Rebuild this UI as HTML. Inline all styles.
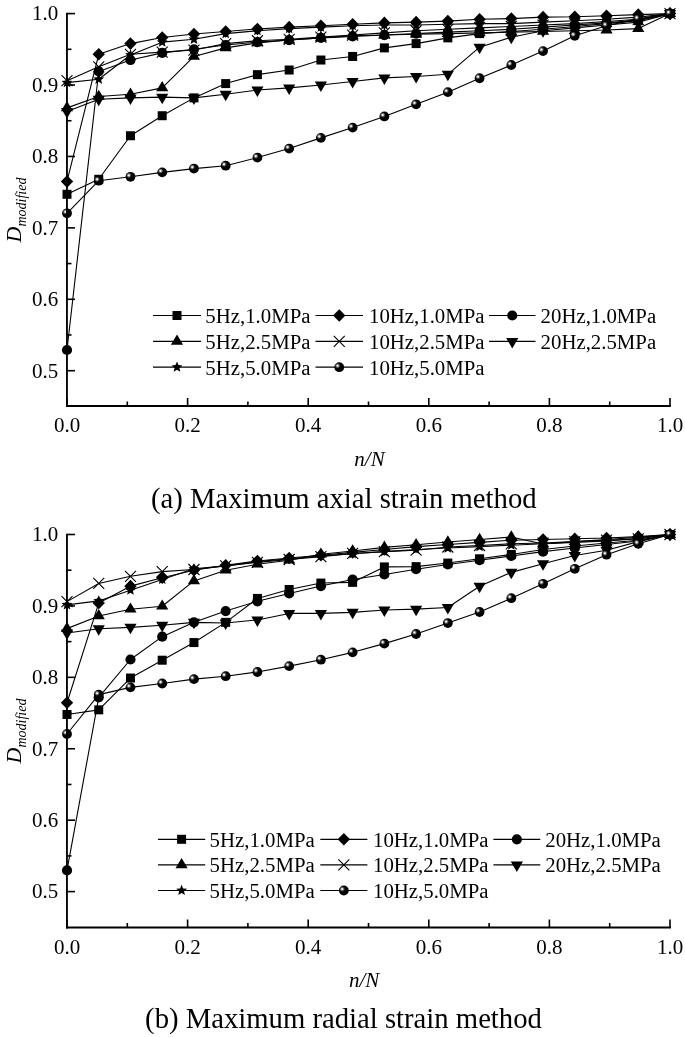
<!DOCTYPE html>
<html><head><meta charset="utf-8"><style>
html,body{margin:0;padding:0;background:#fff;width:685px;height:1037px;overflow:hidden}
svg{display:block;will-change:transform}
text{font-family:"Liberation Serif",serif;fill:#000}
.tk{font-size:21px}
.lg{font-size:20.8px}
.xl{font-size:21px;font-style:italic}
.yl{font-size:22px}
.sub{font-size:14px}
.cap{font-size:28.7px}
</style></head><body>
<svg width="685" height="1037" viewBox="0 0 685 1037">
<defs><radialGradient id="sg" cx="0.33" cy="0.35" r="0.65" fx="0.33" fy="0.35">
<stop offset="0" stop-color="#fff"/><stop offset="0.09" stop-color="#eee"/><stop offset="0.27" stop-color="#555"/><stop offset="0.44" stop-color="#000"/><stop offset="1" stop-color="#000"/></radialGradient></defs>
<rect width="685" height="1037" fill="#fff"/>
<polyline points="67.00,194.29 98.74,179.29 130.47,135.73 162.21,115.73 193.95,97.88 225.68,83.59 257.42,74.66 289.16,70.02 320.89,60.02 352.63,56.45 384.37,47.88 416.11,43.60 447.84,37.88 479.58,33.60 511.32,31.46 543.05,29.31 574.79,26.46 606.53,23.60 638.26,20.74 670.00,13.60" fill="none" stroke="#000" stroke-width="1.1" stroke-linejoin="round"/>
<rect x="62.50" y="189.79" width="9.0" height="9.0" fill="#000"/>
<rect x="94.24" y="174.79" width="9.0" height="9.0" fill="#000"/>
<rect x="125.97" y="131.23" width="9.0" height="9.0" fill="#000"/>
<rect x="157.71" y="111.23" width="9.0" height="9.0" fill="#000"/>
<rect x="189.45" y="93.38" width="9.0" height="9.0" fill="#000"/>
<rect x="221.18" y="79.09" width="9.0" height="9.0" fill="#000"/>
<rect x="252.92" y="70.16" width="9.0" height="9.0" fill="#000"/>
<rect x="284.66" y="65.52" width="9.0" height="9.0" fill="#000"/>
<rect x="316.39" y="55.52" width="9.0" height="9.0" fill="#000"/>
<rect x="348.13" y="51.95" width="9.0" height="9.0" fill="#000"/>
<rect x="379.87" y="43.38" width="9.0" height="9.0" fill="#000"/>
<rect x="411.61" y="39.10" width="9.0" height="9.0" fill="#000"/>
<rect x="443.34" y="33.38" width="9.0" height="9.0" fill="#000"/>
<rect x="475.08" y="29.10" width="9.0" height="9.0" fill="#000"/>
<rect x="506.82" y="26.96" width="9.0" height="9.0" fill="#000"/>
<rect x="538.55" y="24.81" width="9.0" height="9.0" fill="#000"/>
<rect x="570.29" y="21.96" width="9.0" height="9.0" fill="#000"/>
<rect x="602.03" y="19.10" width="9.0" height="9.0" fill="#000"/>
<rect x="633.76" y="16.24" width="9.0" height="9.0" fill="#000"/>
<rect x="665.50" y="9.10" width="9.0" height="9.0" fill="#000"/>
<polyline points="67.00,181.44 98.74,54.31 130.47,43.60 162.21,37.53 193.95,34.03 225.68,31.46 257.42,28.96 289.16,27.17 320.89,25.74 352.63,24.31 384.37,22.88 416.11,22.17 447.84,21.10 479.58,19.31 511.32,18.60 543.05,17.17 574.79,16.81 606.53,15.74 638.26,14.67 670.00,13.60" fill="none" stroke="#000" stroke-width="1.1" stroke-linejoin="round"/>
<path d="M67.00 175.14L73.20 181.44L67.00 187.74L60.80 181.44Z" fill="#000"/>
<path d="M98.74 48.01L104.94 54.31L98.74 60.61L92.54 54.31Z" fill="#000"/>
<path d="M130.47 37.30L136.67 43.60L130.47 49.90L124.27 43.60Z" fill="#000"/>
<path d="M162.21 31.23L168.41 37.53L162.21 43.83L156.01 37.53Z" fill="#000"/>
<path d="M193.95 27.73L200.15 34.03L193.95 40.33L187.75 34.03Z" fill="#000"/>
<path d="M225.68 25.16L231.88 31.46L225.68 37.76L219.48 31.46Z" fill="#000"/>
<path d="M257.42 22.66L263.62 28.96L257.42 35.26L251.22 28.96Z" fill="#000"/>
<path d="M289.16 20.87L295.36 27.17L289.16 33.47L282.96 27.17Z" fill="#000"/>
<path d="M320.89 19.44L327.09 25.74L320.89 32.04L314.69 25.74Z" fill="#000"/>
<path d="M352.63 18.01L358.83 24.31L352.63 30.61L346.43 24.31Z" fill="#000"/>
<path d="M384.37 16.58L390.57 22.88L384.37 29.18L378.17 22.88Z" fill="#000"/>
<path d="M416.11 15.87L422.31 22.17L416.11 28.47L409.91 22.17Z" fill="#000"/>
<path d="M447.84 14.80L454.04 21.10L447.84 27.40L441.64 21.10Z" fill="#000"/>
<path d="M479.58 13.01L485.78 19.31L479.58 25.61L473.38 19.31Z" fill="#000"/>
<path d="M511.32 12.30L517.52 18.60L511.32 24.90L505.12 18.60Z" fill="#000"/>
<path d="M543.05 10.87L549.25 17.17L543.05 23.47L536.85 17.17Z" fill="#000"/>
<path d="M574.79 10.51L580.99 16.81L574.79 23.11L568.59 16.81Z" fill="#000"/>
<path d="M606.53 9.44L612.73 15.74L606.53 22.04L600.33 15.74Z" fill="#000"/>
<path d="M638.26 8.37L644.46 14.67L638.26 20.97L632.06 14.67Z" fill="#000"/>
<path d="M670.00 7.30L676.20 13.60L670.00 19.90L663.80 13.60Z" fill="#000"/>
<polyline points="67.00,349.99 98.74,71.45 130.47,60.02 162.21,52.88 193.95,49.31 225.68,45.02 257.42,42.17 289.16,40.03 320.89,37.88 352.63,36.45 384.37,35.03 416.11,33.60 447.84,32.17 479.58,30.74 511.32,29.31 543.05,27.17 574.79,25.03 606.53,22.88 638.26,20.03 670.00,13.60" fill="none" stroke="#000" stroke-width="1.1" stroke-linejoin="round"/>
<circle cx="67.00" cy="349.99" r="5.1" fill="#000"/>
<circle cx="98.74" cy="71.45" r="5.1" fill="#000"/>
<circle cx="130.47" cy="60.02" r="5.1" fill="#000"/>
<circle cx="162.21" cy="52.88" r="5.1" fill="#000"/>
<circle cx="193.95" cy="49.31" r="5.1" fill="#000"/>
<circle cx="225.68" cy="45.02" r="5.1" fill="#000"/>
<circle cx="257.42" cy="42.17" r="5.1" fill="#000"/>
<circle cx="289.16" cy="40.03" r="5.1" fill="#000"/>
<circle cx="320.89" cy="37.88" r="5.1" fill="#000"/>
<circle cx="352.63" cy="36.45" r="5.1" fill="#000"/>
<circle cx="384.37" cy="35.03" r="5.1" fill="#000"/>
<circle cx="416.11" cy="33.60" r="5.1" fill="#000"/>
<circle cx="447.84" cy="32.17" r="5.1" fill="#000"/>
<circle cx="479.58" cy="30.74" r="5.1" fill="#000"/>
<circle cx="511.32" cy="29.31" r="5.1" fill="#000"/>
<circle cx="543.05" cy="27.17" r="5.1" fill="#000"/>
<circle cx="574.79" cy="25.03" r="5.1" fill="#000"/>
<circle cx="606.53" cy="22.88" r="5.1" fill="#000"/>
<circle cx="638.26" cy="20.03" r="5.1" fill="#000"/>
<circle cx="670.00" cy="13.60" r="5.1" fill="#000"/>
<polyline points="67.00,107.87 98.74,96.45 130.47,94.30 162.21,87.88 193.95,56.45 225.68,47.88 257.42,42.88 289.16,40.03 320.89,37.88 352.63,35.74 384.37,35.03 416.11,34.31 447.84,33.60 479.58,32.88 511.32,32.17 543.05,31.46 574.79,30.74 606.53,30.03 638.26,28.60 670.00,13.60" fill="none" stroke="#000" stroke-width="1.1" stroke-linejoin="round"/>
<path d="M67.00 101.07L73.10 111.27L60.90 111.27Z" fill="#000"/>
<path d="M98.74 89.65L104.84 99.85L92.64 99.85Z" fill="#000"/>
<path d="M130.47 87.50L136.57 97.70L124.37 97.70Z" fill="#000"/>
<path d="M162.21 81.08L168.31 91.28L156.11 91.28Z" fill="#000"/>
<path d="M193.95 49.65L200.05 59.85L187.85 59.85Z" fill="#000"/>
<path d="M225.68 41.08L231.78 51.28L219.58 51.28Z" fill="#000"/>
<path d="M257.42 36.08L263.52 46.28L251.32 46.28Z" fill="#000"/>
<path d="M289.16 33.23L295.26 43.43L283.06 43.43Z" fill="#000"/>
<path d="M320.89 31.08L326.99 41.28L314.79 41.28Z" fill="#000"/>
<path d="M352.63 28.94L358.73 39.14L346.53 39.14Z" fill="#000"/>
<path d="M384.37 28.23L390.47 38.43L378.27 38.43Z" fill="#000"/>
<path d="M416.11 27.51L422.21 37.71L410.01 37.71Z" fill="#000"/>
<path d="M447.84 26.80L453.94 37.00L441.74 37.00Z" fill="#000"/>
<path d="M479.58 26.08L485.68 36.28L473.48 36.28Z" fill="#000"/>
<path d="M511.32 25.37L517.42 35.57L505.22 35.57Z" fill="#000"/>
<path d="M543.05 24.66L549.15 34.86L536.95 34.86Z" fill="#000"/>
<path d="M574.79 23.94L580.89 34.14L568.69 34.14Z" fill="#000"/>
<path d="M606.53 23.23L612.63 33.43L600.43 33.43Z" fill="#000"/>
<path d="M638.26 21.80L644.36 32.00L632.16 32.00Z" fill="#000"/>
<path d="M670.00 6.80L676.10 17.00L663.90 17.00Z" fill="#000"/>
<polyline points="67.00,80.73 98.74,66.81 130.47,54.31 162.21,52.17 193.95,50.02 225.68,43.60 257.42,40.74 289.16,39.31 320.89,37.17 352.63,35.03 384.37,32.88 416.11,30.74 447.84,29.31 479.58,27.88 511.32,26.46 543.05,25.03 574.79,23.60 606.53,21.46 638.26,19.31 670.00,13.60" fill="none" stroke="#000" stroke-width="1.1" stroke-linejoin="round"/>
<path d="M61.50 75.23L72.50 86.23M72.50 75.23L61.50 86.23" stroke="#000" stroke-width="1.1" fill="none"/>
<path d="M93.24 61.31L104.24 72.31M104.24 61.31L93.24 72.31" stroke="#000" stroke-width="1.1" fill="none"/>
<path d="M124.97 48.81L135.97 59.81M135.97 48.81L124.97 59.81" stroke="#000" stroke-width="1.1" fill="none"/>
<path d="M156.71 46.67L167.71 57.67M167.71 46.67L156.71 57.67" stroke="#000" stroke-width="1.1" fill="none"/>
<path d="M188.45 44.52L199.45 55.52M199.45 44.52L188.45 55.52" stroke="#000" stroke-width="1.1" fill="none"/>
<path d="M220.18 38.10L231.18 49.10M231.18 38.10L220.18 49.10" stroke="#000" stroke-width="1.1" fill="none"/>
<path d="M251.92 35.24L262.92 46.24M262.92 35.24L251.92 46.24" stroke="#000" stroke-width="1.1" fill="none"/>
<path d="M283.66 33.81L294.66 44.81M294.66 33.81L283.66 44.81" stroke="#000" stroke-width="1.1" fill="none"/>
<path d="M315.39 31.67L326.39 42.67M326.39 31.67L315.39 42.67" stroke="#000" stroke-width="1.1" fill="none"/>
<path d="M347.13 29.53L358.13 40.53M358.13 29.53L347.13 40.53" stroke="#000" stroke-width="1.1" fill="none"/>
<path d="M378.87 27.38L389.87 38.38M389.87 27.38L378.87 38.38" stroke="#000" stroke-width="1.1" fill="none"/>
<path d="M410.61 25.24L421.61 36.24M421.61 25.24L410.61 36.24" stroke="#000" stroke-width="1.1" fill="none"/>
<path d="M442.34 23.81L453.34 34.81M453.34 23.81L442.34 34.81" stroke="#000" stroke-width="1.1" fill="none"/>
<path d="M474.08 22.38L485.08 33.38M485.08 22.38L474.08 33.38" stroke="#000" stroke-width="1.1" fill="none"/>
<path d="M505.82 20.96L516.82 31.96M516.82 20.96L505.82 31.96" stroke="#000" stroke-width="1.1" fill="none"/>
<path d="M537.55 19.53L548.55 30.53M548.55 19.53L537.55 30.53" stroke="#000" stroke-width="1.1" fill="none"/>
<path d="M569.29 18.10L580.29 29.10M580.29 18.10L569.29 29.10" stroke="#000" stroke-width="1.1" fill="none"/>
<path d="M601.03 15.96L612.03 26.96M612.03 15.96L601.03 26.96" stroke="#000" stroke-width="1.1" fill="none"/>
<path d="M632.76 13.81L643.76 24.81M643.76 13.81L632.76 24.81" stroke="#000" stroke-width="1.1" fill="none"/>
<path d="M664.50 8.10L675.50 19.10M675.50 8.10L664.50 19.10" stroke="#000" stroke-width="1.1" fill="none"/>
<polyline points="67.00,111.45 98.74,99.30 130.47,97.88 162.21,97.16 193.95,97.88 225.68,94.30 257.42,90.02 289.16,87.88 320.89,85.02 352.63,81.45 384.37,77.88 416.11,76.45 447.84,74.31 479.58,47.17 511.32,37.17 543.05,30.74 574.79,27.88 606.53,25.03 638.26,22.17 670.00,13.60" fill="none" stroke="#000" stroke-width="1.1" stroke-linejoin="round"/>
<path d="M67.00 118.45L73.10 107.95L60.90 107.95Z" fill="#000"/>
<path d="M98.74 106.30L104.84 95.80L92.64 95.80Z" fill="#000"/>
<path d="M130.47 104.88L136.57 94.38L124.37 94.38Z" fill="#000"/>
<path d="M162.21 104.16L168.31 93.66L156.11 93.66Z" fill="#000"/>
<path d="M193.95 104.88L200.05 94.38L187.85 94.38Z" fill="#000"/>
<path d="M225.68 101.30L231.78 90.80L219.58 90.80Z" fill="#000"/>
<path d="M257.42 97.02L263.52 86.52L251.32 86.52Z" fill="#000"/>
<path d="M289.16 94.88L295.26 84.38L283.06 84.38Z" fill="#000"/>
<path d="M320.89 92.02L326.99 81.52L314.79 81.52Z" fill="#000"/>
<path d="M352.63 88.45L358.73 77.95L346.53 77.95Z" fill="#000"/>
<path d="M384.37 84.88L390.47 74.38L378.27 74.38Z" fill="#000"/>
<path d="M416.11 83.45L422.21 72.95L410.01 72.95Z" fill="#000"/>
<path d="M447.84 81.31L453.94 70.81L441.74 70.81Z" fill="#000"/>
<path d="M479.58 54.17L485.68 43.67L473.48 43.67Z" fill="#000"/>
<path d="M511.32 44.17L517.42 33.67L505.22 33.67Z" fill="#000"/>
<path d="M543.05 37.74L549.15 27.24L536.95 27.24Z" fill="#000"/>
<path d="M574.79 34.88L580.89 24.38L568.69 24.38Z" fill="#000"/>
<path d="M606.53 32.03L612.63 21.53L600.43 21.53Z" fill="#000"/>
<path d="M638.26 29.17L644.36 18.67L632.16 18.67Z" fill="#000"/>
<path d="M670.00 20.60L676.10 10.10L663.90 10.10Z" fill="#000"/>
<polyline points="67.00,82.66 98.74,79.31 130.47,55.02 162.21,42.17 193.95,39.31 225.68,33.60 257.42,30.74 289.16,28.60 320.89,27.17 352.63,25.74 384.37,25.03 416.11,25.03 447.84,24.31 479.58,23.60 511.32,23.60 543.05,22.17 574.79,20.74 606.53,19.31 638.26,17.17 670.00,13.60" fill="none" stroke="#000" stroke-width="1.1" stroke-linejoin="round"/>
<path d="M67.00 76.96L68.51 80.59L72.42 80.90L69.44 83.46L70.35 87.27L67.00 85.23L63.65 87.27L64.56 83.46L61.58 80.90L65.49 80.59Z" fill="#000"/>
<path d="M98.74 73.61L100.24 77.23L104.16 77.55L101.18 80.10L102.09 83.92L98.74 81.87L95.39 83.92L96.30 80.10L93.32 77.55L97.23 77.23Z" fill="#000"/>
<path d="M130.47 49.32L131.98 52.95L135.89 53.26L132.91 55.82L133.82 59.63L130.47 57.59L127.12 59.63L128.03 55.82L125.05 53.26L128.97 52.95Z" fill="#000"/>
<path d="M162.21 36.47L163.72 40.09L167.63 40.41L164.65 42.96L165.56 46.78L162.21 44.73L158.86 46.78L159.77 42.96L156.79 40.41L160.70 40.09Z" fill="#000"/>
<path d="M193.95 33.61L195.46 37.24L199.37 37.55L196.39 40.10L197.30 43.92L193.95 41.88L190.60 43.92L191.51 40.10L188.53 37.55L192.44 37.24Z" fill="#000"/>
<path d="M225.68 27.90L227.19 31.52L231.11 31.84L228.12 34.39L229.03 38.21L225.68 36.16L222.33 38.21L223.24 34.39L220.26 31.84L224.18 31.52Z" fill="#000"/>
<path d="M257.42 25.04L258.93 28.67L262.84 28.98L259.86 31.53L260.77 35.35L257.42 33.31L254.07 35.35L254.98 31.53L252.00 28.98L255.91 28.67Z" fill="#000"/>
<path d="M289.16 22.90L290.67 26.52L294.58 26.84L291.60 29.39L292.51 33.21L289.16 31.16L285.81 33.21L286.72 29.39L283.74 26.84L287.65 26.52Z" fill="#000"/>
<path d="M320.89 21.47L322.40 25.09L326.32 25.41L323.33 27.96L324.25 31.78L320.89 29.73L317.54 31.78L318.46 27.96L315.47 25.41L319.39 25.09Z" fill="#000"/>
<path d="M352.63 20.04L354.14 23.67L358.05 23.98L355.07 26.53L355.98 30.35L352.63 28.31L349.28 30.35L350.19 26.53L347.21 23.98L351.12 23.67Z" fill="#000"/>
<path d="M384.37 19.33L385.88 22.95L389.79 23.27L386.81 25.82L387.72 29.64L384.37 27.59L381.02 29.64L381.93 25.82L378.95 23.27L382.86 22.95Z" fill="#000"/>
<path d="M416.11 19.33L417.61 22.95L421.53 23.27L418.54 25.82L419.46 29.64L416.11 27.59L412.75 29.64L413.67 25.82L410.68 23.27L414.60 22.95Z" fill="#000"/>
<path d="M447.84 18.61L449.35 22.24L453.26 22.55L450.28 25.11L451.19 28.92L447.84 26.88L444.49 28.92L445.40 25.11L442.42 22.55L446.33 22.24Z" fill="#000"/>
<path d="M479.58 17.90L481.09 21.52L485.00 21.84L482.02 24.39L482.93 28.21L479.58 26.16L476.23 28.21L477.14 24.39L474.16 21.84L478.07 21.52Z" fill="#000"/>
<path d="M511.32 17.90L512.82 21.52L516.74 21.84L513.76 24.39L514.67 28.21L511.32 26.16L507.97 28.21L508.88 24.39L505.89 21.84L509.81 21.52Z" fill="#000"/>
<path d="M543.05 16.47L544.56 20.10L548.47 20.41L545.49 22.96L546.40 26.78L543.05 24.74L539.70 26.78L540.61 22.96L537.63 20.41L541.54 20.10Z" fill="#000"/>
<path d="M574.79 15.04L576.30 18.67L580.21 18.98L577.23 21.53L578.14 25.35L574.79 23.31L571.44 25.35L572.35 21.53L569.37 18.98L573.28 18.67Z" fill="#000"/>
<path d="M606.53 13.61L608.03 17.24L611.95 17.55L608.97 20.11L609.88 23.92L606.53 21.88L603.18 23.92L604.09 20.11L601.11 17.55L605.02 17.24Z" fill="#000"/>
<path d="M638.26 11.47L639.77 15.10L643.68 15.41L640.70 17.96L641.61 21.78L638.26 19.74L634.91 21.78L635.82 17.96L632.84 15.41L636.76 15.10Z" fill="#000"/>
<path d="M670.00 7.90L671.51 11.52L675.42 11.84L672.44 14.39L673.35 18.21L670.00 16.16L666.65 18.21L667.56 14.39L664.58 11.84L668.49 11.52Z" fill="#000"/>
<polyline points="67.00,213.29 98.74,180.72 130.47,176.79 162.21,172.37 193.95,168.58 225.68,165.72 257.42,157.58 289.16,148.58 320.89,137.87 352.63,127.59 384.37,116.44 416.11,104.30 447.84,92.16 479.58,78.24 511.32,65.02 543.05,51.10 574.79,35.74 606.53,25.74 638.26,18.89 670.00,13.60" fill="none" stroke="#000" stroke-width="1.1" stroke-linejoin="round"/>
<circle cx="67.00" cy="213.29" r="4.9" fill="url(#sg)"/>
<circle cx="98.74" cy="180.72" r="4.9" fill="url(#sg)"/>
<circle cx="130.47" cy="176.79" r="4.9" fill="url(#sg)"/>
<circle cx="162.21" cy="172.37" r="4.9" fill="url(#sg)"/>
<circle cx="193.95" cy="168.58" r="4.9" fill="url(#sg)"/>
<circle cx="225.68" cy="165.72" r="4.9" fill="url(#sg)"/>
<circle cx="257.42" cy="157.58" r="4.9" fill="url(#sg)"/>
<circle cx="289.16" cy="148.58" r="4.9" fill="url(#sg)"/>
<circle cx="320.89" cy="137.87" r="4.9" fill="url(#sg)"/>
<circle cx="352.63" cy="127.59" r="4.9" fill="url(#sg)"/>
<circle cx="384.37" cy="116.44" r="4.9" fill="url(#sg)"/>
<circle cx="416.11" cy="104.30" r="4.9" fill="url(#sg)"/>
<circle cx="447.84" cy="92.16" r="4.9" fill="url(#sg)"/>
<circle cx="479.58" cy="78.24" r="4.9" fill="url(#sg)"/>
<circle cx="511.32" cy="65.02" r="4.9" fill="url(#sg)"/>
<circle cx="543.05" cy="51.10" r="4.9" fill="url(#sg)"/>
<circle cx="574.79" cy="35.74" r="4.9" fill="url(#sg)"/>
<circle cx="606.53" cy="25.74" r="4.9" fill="url(#sg)"/>
<circle cx="638.26" cy="18.89" r="4.9" fill="url(#sg)"/>
<circle cx="670.00" cy="13.60" r="4.9" fill="url(#sg)"/>
<line x1="66.95" y1="12.80" x2="66.95" y2="406.95" stroke="#000" stroke-width="1.85"/>
<line x1="66.0" y1="406.00" x2="670.90" y2="406.00" stroke="#000" stroke-width="1.9"/>
<line x1="67" y1="13.60" x2="75" y2="13.60" stroke="#000" stroke-width="1.6"/>
<text x="58.3" y="20.40" text-anchor="end" class="tk">1.0</text>
<line x1="67" y1="85.02" x2="75" y2="85.02" stroke="#000" stroke-width="1.6"/>
<text x="58.3" y="91.82" text-anchor="end" class="tk">0.9</text>
<line x1="67" y1="156.44" x2="75" y2="156.44" stroke="#000" stroke-width="1.6"/>
<text x="58.3" y="163.24" text-anchor="end" class="tk">0.8</text>
<line x1="67" y1="227.86" x2="75" y2="227.86" stroke="#000" stroke-width="1.6"/>
<text x="58.3" y="234.66" text-anchor="end" class="tk">0.7</text>
<line x1="67" y1="299.28" x2="75" y2="299.28" stroke="#000" stroke-width="1.6"/>
<text x="58.3" y="306.08" text-anchor="end" class="tk">0.6</text>
<line x1="67" y1="370.70" x2="75" y2="370.70" stroke="#000" stroke-width="1.6"/>
<text x="58.3" y="377.50" text-anchor="end" class="tk">0.5</text>
<line x1="67" y1="49.31" x2="71.5" y2="49.31" stroke="#000" stroke-width="1.6"/>
<line x1="67" y1="120.73" x2="71.5" y2="120.73" stroke="#000" stroke-width="1.6"/>
<line x1="67" y1="192.15" x2="71.5" y2="192.15" stroke="#000" stroke-width="1.6"/>
<line x1="67" y1="263.57" x2="71.5" y2="263.57" stroke="#000" stroke-width="1.6"/>
<line x1="67" y1="334.99" x2="71.5" y2="334.99" stroke="#000" stroke-width="1.6"/>
<line x1="67.00" y1="406.00" x2="67.00" y2="398.00" stroke="#000" stroke-width="1.6"/>
<text x="67.00" y="432.00" text-anchor="middle" class="tk">0.0</text>
<line x1="187.60" y1="406.00" x2="187.60" y2="398.00" stroke="#000" stroke-width="1.6"/>
<text x="187.60" y="432.00" text-anchor="middle" class="tk">0.2</text>
<line x1="308.20" y1="406.00" x2="308.20" y2="398.00" stroke="#000" stroke-width="1.6"/>
<text x="308.20" y="432.00" text-anchor="middle" class="tk">0.4</text>
<line x1="428.80" y1="406.00" x2="428.80" y2="398.00" stroke="#000" stroke-width="1.6"/>
<text x="428.80" y="432.00" text-anchor="middle" class="tk">0.6</text>
<line x1="549.40" y1="406.00" x2="549.40" y2="398.00" stroke="#000" stroke-width="1.6"/>
<text x="549.40" y="432.00" text-anchor="middle" class="tk">0.8</text>
<line x1="670.00" y1="406.00" x2="670.00" y2="398.00" stroke="#000" stroke-width="1.6"/>
<text x="670.00" y="432.00" text-anchor="middle" class="tk">1.0</text>
<line x1="127.30" y1="406.00" x2="127.30" y2="401.50" stroke="#000" stroke-width="1.6"/>
<line x1="247.90" y1="406.00" x2="247.90" y2="401.50" stroke="#000" stroke-width="1.6"/>
<line x1="368.50" y1="406.00" x2="368.50" y2="401.50" stroke="#000" stroke-width="1.6"/>
<line x1="489.10" y1="406.00" x2="489.10" y2="401.50" stroke="#000" stroke-width="1.6"/>
<line x1="609.70" y1="406.00" x2="609.70" y2="401.50" stroke="#000" stroke-width="1.6"/>
<line x1="153" y1="315.5" x2="201" y2="315.5" stroke="#000" stroke-width="1.2"/>
<rect x="172.50" y="311.00" width="9.0" height="9.0" fill="#000"/>
<text x="205.3" y="322.80" class="lg">5Hz,1.0MPa</text>
<line x1="315.5" y1="315.5" x2="363" y2="315.5" stroke="#000" stroke-width="1.2"/>
<path d="M339.25 309.20L345.45 315.50L339.25 321.80L333.05 315.50Z" fill="#000"/>
<text x="369.0" y="322.80" class="lg">10Hz,1.0MPa</text>
<line x1="489" y1="315.5" x2="535.5" y2="315.5" stroke="#000" stroke-width="1.2"/>
<circle cx="512.25" cy="315.50" r="5.1" fill="#000"/>
<text x="540.6" y="322.80" class="lg">20Hz,1.0MPa</text>
<line x1="153" y1="341.4" x2="201" y2="341.4" stroke="#000" stroke-width="1.2"/>
<path d="M177.00 334.60L183.10 344.80L170.90 344.80Z" fill="#000"/>
<text x="205.3" y="348.70" class="lg">5Hz,2.5MPa</text>
<line x1="315.5" y1="341.4" x2="363" y2="341.4" stroke="#000" stroke-width="1.2"/>
<path d="M333.75 335.90L344.75 346.90M344.75 335.90L333.75 346.90" stroke="#000" stroke-width="1.1" fill="none"/>
<text x="369.0" y="348.70" class="lg">10Hz,2.5MPa</text>
<line x1="489" y1="341.4" x2="535.5" y2="341.4" stroke="#000" stroke-width="1.2"/>
<path d="M512.25 348.40L518.35 337.90L506.15 337.90Z" fill="#000"/>
<text x="540.6" y="348.70" class="lg">20Hz,2.5MPa</text>
<line x1="153" y1="367.2" x2="201" y2="367.2" stroke="#000" stroke-width="1.2"/>
<path d="M177.00 361.50L178.51 365.12L182.42 365.44L179.44 367.99L180.35 371.81L177.00 369.76L173.65 371.81L174.56 367.99L171.58 365.44L175.49 365.12Z" fill="#000"/>
<text x="205.3" y="374.50" class="lg">5Hz,5.0MPa</text>
<line x1="315.5" y1="367.2" x2="363" y2="367.2" stroke="#000" stroke-width="1.2"/>
<circle cx="339.25" cy="367.20" r="4.9" fill="url(#sg)"/>
<text x="369.0" y="374.50" class="lg">10Hz,5.0MPa</text>
<text transform="translate(20.5,210) rotate(-90)" text-anchor="middle" class="yl"><tspan font-style="italic">D</tspan><tspan font-style="italic" class="sub" dy="5">modified</tspan></text>
<text x="369.5" y="465.8" text-anchor="middle" class="xl">n/N</text>
<text x="343.8" y="507.7" text-anchor="middle" class="cap">(a) Maximum axial strain method</text>
<polyline points="67.00,714.48 98.74,709.84 130.47,678.05 162.21,660.20 193.95,642.56 225.68,622.35 257.42,598.42 289.16,589.49 320.89,583.07 352.63,582.35 384.37,566.92 416.11,566.64 447.84,563.07 479.58,558.78 511.32,554.50 543.05,549.50 574.79,545.93 606.53,543.07 638.26,540.21 670.00,534.50" fill="none" stroke="#000" stroke-width="1.1" stroke-linejoin="round"/>
<rect x="62.50" y="709.98" width="9.0" height="9.0" fill="#000"/>
<rect x="94.24" y="705.34" width="9.0" height="9.0" fill="#000"/>
<rect x="125.97" y="673.55" width="9.0" height="9.0" fill="#000"/>
<rect x="157.71" y="655.70" width="9.0" height="9.0" fill="#000"/>
<rect x="189.45" y="638.06" width="9.0" height="9.0" fill="#000"/>
<rect x="221.18" y="617.85" width="9.0" height="9.0" fill="#000"/>
<rect x="252.92" y="593.92" width="9.0" height="9.0" fill="#000"/>
<rect x="284.66" y="584.99" width="9.0" height="9.0" fill="#000"/>
<rect x="316.39" y="578.57" width="9.0" height="9.0" fill="#000"/>
<rect x="348.13" y="577.85" width="9.0" height="9.0" fill="#000"/>
<rect x="379.87" y="562.42" width="9.0" height="9.0" fill="#000"/>
<rect x="411.61" y="562.14" width="9.0" height="9.0" fill="#000"/>
<rect x="443.34" y="558.57" width="9.0" height="9.0" fill="#000"/>
<rect x="475.08" y="554.28" width="9.0" height="9.0" fill="#000"/>
<rect x="506.82" y="550.00" width="9.0" height="9.0" fill="#000"/>
<rect x="538.55" y="545.00" width="9.0" height="9.0" fill="#000"/>
<rect x="570.29" y="541.43" width="9.0" height="9.0" fill="#000"/>
<rect x="602.03" y="538.57" width="9.0" height="9.0" fill="#000"/>
<rect x="633.76" y="535.71" width="9.0" height="9.0" fill="#000"/>
<rect x="665.50" y="530.00" width="9.0" height="9.0" fill="#000"/>
<polyline points="67.00,702.77 98.74,603.06 130.47,586.14 162.21,577.71 193.95,570.21 225.68,565.21 257.42,560.93 289.16,558.07 320.89,555.21 352.63,552.36 384.37,549.50 416.11,546.64 447.84,544.50 479.58,542.36 511.32,540.21 543.05,539.50 574.79,538.79 606.53,538.07 638.26,536.64 670.00,534.50" fill="none" stroke="#000" stroke-width="1.1" stroke-linejoin="round"/>
<path d="M67.00 696.47L73.20 702.77L67.00 709.07L60.80 702.77Z" fill="#000"/>
<path d="M98.74 596.76L104.94 603.06L98.74 609.36L92.54 603.06Z" fill="#000"/>
<path d="M130.47 579.84L136.67 586.14L130.47 592.44L124.27 586.14Z" fill="#000"/>
<path d="M162.21 571.41L168.41 577.71L162.21 584.01L156.01 577.71Z" fill="#000"/>
<path d="M193.95 563.91L200.15 570.21L193.95 576.51L187.75 570.21Z" fill="#000"/>
<path d="M225.68 558.91L231.88 565.21L225.68 571.51L219.48 565.21Z" fill="#000"/>
<path d="M257.42 554.63L263.62 560.93L257.42 567.23L251.22 560.93Z" fill="#000"/>
<path d="M289.16 551.77L295.36 558.07L289.16 564.37L282.96 558.07Z" fill="#000"/>
<path d="M320.89 548.91L327.09 555.21L320.89 561.51L314.69 555.21Z" fill="#000"/>
<path d="M352.63 546.06L358.83 552.36L352.63 558.65L346.43 552.36Z" fill="#000"/>
<path d="M384.37 543.20L390.57 549.50L384.37 555.80L378.17 549.50Z" fill="#000"/>
<path d="M416.11 540.34L422.31 546.64L416.11 552.94L409.91 546.64Z" fill="#000"/>
<path d="M447.84 538.20L454.04 544.50L447.84 550.80L441.64 544.50Z" fill="#000"/>
<path d="M479.58 536.06L485.78 542.36L479.58 548.66L473.38 542.36Z" fill="#000"/>
<path d="M511.32 533.91L517.52 540.21L511.32 546.51L505.12 540.21Z" fill="#000"/>
<path d="M543.05 533.20L549.25 539.50L543.05 545.80L536.85 539.50Z" fill="#000"/>
<path d="M574.79 532.49L580.99 538.79L574.79 545.09L568.59 538.79Z" fill="#000"/>
<path d="M606.53 531.77L612.73 538.07L606.53 544.37L600.33 538.07Z" fill="#000"/>
<path d="M638.26 530.34L644.46 536.64L638.26 542.94L632.06 536.64Z" fill="#000"/>
<path d="M670.00 528.20L676.20 534.50L670.00 540.80L663.80 534.50Z" fill="#000"/>
<polyline points="67.00,870.39 98.74,697.34 130.47,659.49 162.21,636.63 193.95,622.35 225.68,611.06 257.42,601.28 289.16,593.42 320.89,586.07 352.63,579.49 384.37,574.50 416.11,569.21 447.84,564.50 479.58,560.21 511.32,555.93 543.05,551.64 574.79,548.07 606.53,544.50 638.26,540.93 670.00,534.50" fill="none" stroke="#000" stroke-width="1.1" stroke-linejoin="round"/>
<circle cx="67.00" cy="870.39" r="5.1" fill="#000"/>
<circle cx="98.74" cy="697.34" r="5.1" fill="#000"/>
<circle cx="130.47" cy="659.49" r="5.1" fill="#000"/>
<circle cx="162.21" cy="636.63" r="5.1" fill="#000"/>
<circle cx="193.95" cy="622.35" r="5.1" fill="#000"/>
<circle cx="225.68" cy="611.06" r="5.1" fill="#000"/>
<circle cx="257.42" cy="601.28" r="5.1" fill="#000"/>
<circle cx="289.16" cy="593.42" r="5.1" fill="#000"/>
<circle cx="320.89" cy="586.07" r="5.1" fill="#000"/>
<circle cx="352.63" cy="579.49" r="5.1" fill="#000"/>
<circle cx="384.37" cy="574.50" r="5.1" fill="#000"/>
<circle cx="416.11" cy="569.21" r="5.1" fill="#000"/>
<circle cx="447.84" cy="564.50" r="5.1" fill="#000"/>
<circle cx="479.58" cy="560.21" r="5.1" fill="#000"/>
<circle cx="511.32" cy="555.93" r="5.1" fill="#000"/>
<circle cx="543.05" cy="551.64" r="5.1" fill="#000"/>
<circle cx="574.79" cy="548.07" r="5.1" fill="#000"/>
<circle cx="606.53" cy="544.50" r="5.1" fill="#000"/>
<circle cx="638.26" cy="540.93" r="5.1" fill="#000"/>
<circle cx="670.00" cy="534.50" r="5.1" fill="#000"/>
<polyline points="67.00,628.63 98.74,615.92 130.47,609.21 162.21,606.21 193.95,580.92 225.68,570.21 257.42,564.21 289.16,560.21 320.89,554.21 352.63,550.93 384.37,547.36 416.11,544.71 447.84,542.07 479.58,539.50 511.32,537.07 543.05,543.93 574.79,541.64 606.53,539.50 638.26,537.36 670.00,534.50" fill="none" stroke="#000" stroke-width="1.1" stroke-linejoin="round"/>
<path d="M67.00 621.83L73.10 632.03L60.90 632.03Z" fill="#000"/>
<path d="M98.74 609.12L104.84 619.32L92.64 619.32Z" fill="#000"/>
<path d="M130.47 602.41L136.57 612.61L124.37 612.61Z" fill="#000"/>
<path d="M162.21 599.41L168.31 609.61L156.11 609.61Z" fill="#000"/>
<path d="M193.95 574.12L200.05 584.32L187.85 584.32Z" fill="#000"/>
<path d="M225.68 563.41L231.78 573.61L219.58 573.61Z" fill="#000"/>
<path d="M257.42 557.41L263.52 567.61L251.32 567.61Z" fill="#000"/>
<path d="M289.16 553.41L295.26 563.61L283.06 563.61Z" fill="#000"/>
<path d="M320.89 547.41L326.99 557.61L314.79 557.61Z" fill="#000"/>
<path d="M352.63 544.13L358.73 554.33L346.53 554.33Z" fill="#000"/>
<path d="M384.37 540.56L390.47 550.76L378.27 550.76Z" fill="#000"/>
<path d="M416.11 537.91L422.21 548.11L410.01 548.11Z" fill="#000"/>
<path d="M447.84 535.27L453.94 545.47L441.74 545.47Z" fill="#000"/>
<path d="M479.58 532.70L485.68 542.90L473.48 542.90Z" fill="#000"/>
<path d="M511.32 530.27L517.42 540.47L505.22 540.47Z" fill="#000"/>
<path d="M543.05 537.13L549.15 547.33L536.95 547.33Z" fill="#000"/>
<path d="M574.79 534.84L580.89 545.04L568.69 545.04Z" fill="#000"/>
<path d="M606.53 532.70L612.63 542.90L600.43 542.90Z" fill="#000"/>
<path d="M638.26 530.56L644.36 540.76L632.16 540.76Z" fill="#000"/>
<path d="M670.00 527.70L676.10 537.90L663.90 537.90Z" fill="#000"/>
<polyline points="67.00,601.63 98.74,583.42 130.47,576.28 162.21,571.64 193.95,569.50 225.68,565.92 257.42,562.35 289.16,559.50 320.89,556.64 352.63,553.43 384.37,551.64 416.11,550.21 447.84,547.00 479.58,545.50 511.32,543.78 543.05,543.07 574.79,541.64 606.53,540.21 638.26,538.79 670.00,534.50" fill="none" stroke="#000" stroke-width="1.1" stroke-linejoin="round"/>
<path d="M61.50 596.13L72.50 607.13M72.50 596.13L61.50 607.13" stroke="#000" stroke-width="1.1" fill="none"/>
<path d="M93.24 577.92L104.24 588.92M104.24 577.92L93.24 588.92" stroke="#000" stroke-width="1.1" fill="none"/>
<path d="M124.97 570.78L135.97 581.78M135.97 570.78L124.97 581.78" stroke="#000" stroke-width="1.1" fill="none"/>
<path d="M156.71 566.14L167.71 577.14M167.71 566.14L156.71 577.14" stroke="#000" stroke-width="1.1" fill="none"/>
<path d="M188.45 564.00L199.45 575.00M199.45 564.00L188.45 575.00" stroke="#000" stroke-width="1.1" fill="none"/>
<path d="M220.18 560.42L231.18 571.42M231.18 560.42L220.18 571.42" stroke="#000" stroke-width="1.1" fill="none"/>
<path d="M251.92 556.85L262.92 567.85M262.92 556.85L251.92 567.85" stroke="#000" stroke-width="1.1" fill="none"/>
<path d="M283.66 554.00L294.66 565.00M294.66 554.00L283.66 565.00" stroke="#000" stroke-width="1.1" fill="none"/>
<path d="M315.39 551.14L326.39 562.14M326.39 551.14L315.39 562.14" stroke="#000" stroke-width="1.1" fill="none"/>
<path d="M347.13 547.93L358.13 558.93M358.13 547.93L347.13 558.93" stroke="#000" stroke-width="1.1" fill="none"/>
<path d="M378.87 546.14L389.87 557.14M389.87 546.14L378.87 557.14" stroke="#000" stroke-width="1.1" fill="none"/>
<path d="M410.61 544.71L421.61 555.71M421.61 544.71L410.61 555.71" stroke="#000" stroke-width="1.1" fill="none"/>
<path d="M442.34 541.50L453.34 552.50M453.34 541.50L442.34 552.50" stroke="#000" stroke-width="1.1" fill="none"/>
<path d="M474.08 540.00L485.08 551.00M485.08 540.00L474.08 551.00" stroke="#000" stroke-width="1.1" fill="none"/>
<path d="M505.82 538.28L516.82 549.28M516.82 538.28L505.82 549.28" stroke="#000" stroke-width="1.1" fill="none"/>
<path d="M537.55 537.57L548.55 548.57M548.55 537.57L537.55 548.57" stroke="#000" stroke-width="1.1" fill="none"/>
<path d="M569.29 536.14L580.29 547.14M580.29 536.14L569.29 547.14" stroke="#000" stroke-width="1.1" fill="none"/>
<path d="M601.03 534.71L612.03 545.71M612.03 534.71L601.03 545.71" stroke="#000" stroke-width="1.1" fill="none"/>
<path d="M632.76 533.29L643.76 544.29M643.76 533.29L632.76 544.29" stroke="#000" stroke-width="1.1" fill="none"/>
<path d="M664.50 529.00L675.50 540.00M675.50 529.00L664.50 540.00" stroke="#000" stroke-width="1.1" fill="none"/>
<polyline points="67.00,633.06 98.74,628.77 130.47,627.35 162.21,625.20 193.95,622.35 225.68,623.06 257.42,619.92 289.16,613.42 320.89,613.42 352.63,612.35 384.37,609.99 416.11,609.13 447.84,607.49 479.58,586.21 511.32,572.35 543.05,563.78 574.79,555.50 606.53,550.21 638.26,541.64 670.00,534.50" fill="none" stroke="#000" stroke-width="1.1" stroke-linejoin="round"/>
<path d="M67.00 640.06L73.10 629.56L60.90 629.56Z" fill="#000"/>
<path d="M98.74 635.77L104.84 625.27L92.64 625.27Z" fill="#000"/>
<path d="M130.47 634.35L136.57 623.85L124.37 623.85Z" fill="#000"/>
<path d="M162.21 632.20L168.31 621.70L156.11 621.70Z" fill="#000"/>
<path d="M193.95 629.35L200.05 618.85L187.85 618.85Z" fill="#000"/>
<path d="M225.68 630.06L231.78 619.56L219.58 619.56Z" fill="#000"/>
<path d="M257.42 626.92L263.52 616.42L251.32 616.42Z" fill="#000"/>
<path d="M289.16 620.42L295.26 609.92L283.06 609.92Z" fill="#000"/>
<path d="M320.89 620.42L326.99 609.92L314.79 609.92Z" fill="#000"/>
<path d="M352.63 619.35L358.73 608.85L346.53 608.85Z" fill="#000"/>
<path d="M384.37 616.99L390.47 606.49L378.27 606.49Z" fill="#000"/>
<path d="M416.11 616.13L422.21 605.63L410.01 605.63Z" fill="#000"/>
<path d="M447.84 614.49L453.94 603.99L441.74 603.99Z" fill="#000"/>
<path d="M479.58 593.21L485.68 582.71L473.48 582.71Z" fill="#000"/>
<path d="M511.32 579.35L517.42 568.85L505.22 568.85Z" fill="#000"/>
<path d="M543.05 570.78L549.15 560.28L536.95 560.28Z" fill="#000"/>
<path d="M574.79 562.50L580.89 552.00L568.69 552.00Z" fill="#000"/>
<path d="M606.53 557.21L612.63 546.71L600.43 546.71Z" fill="#000"/>
<path d="M638.26 548.64L644.36 538.14L632.16 538.14Z" fill="#000"/>
<path d="M670.00 541.50L676.10 531.00L663.90 531.00Z" fill="#000"/>
<polyline points="67.00,604.85 98.74,600.92 130.47,590.21 162.21,579.49 193.95,568.78 225.68,565.92 257.42,561.64 289.16,558.78 320.89,555.93 352.63,553.78 384.37,551.64 416.11,549.50 447.84,548.07 479.58,546.64 511.32,545.21 543.05,543.78 574.79,542.36 606.53,540.93 638.26,538.79 670.00,534.50" fill="none" stroke="#000" stroke-width="1.1" stroke-linejoin="round"/>
<path d="M67.00 599.15L68.51 602.77L72.42 603.09L69.44 605.64L70.35 609.46L67.00 607.41L63.65 609.46L64.56 605.64L61.58 603.09L65.49 602.77Z" fill="#000"/>
<path d="M98.74 595.22L100.24 598.85L104.16 599.16L101.18 601.71L102.09 605.53L98.74 603.49L95.39 605.53L96.30 601.71L93.32 599.16L97.23 598.85Z" fill="#000"/>
<path d="M130.47 584.51L131.98 588.13L135.89 588.45L132.91 591.00L133.82 594.82L130.47 592.77L127.12 594.82L128.03 591.00L125.05 588.45L128.97 588.13Z" fill="#000"/>
<path d="M162.21 573.79L163.72 577.42L167.63 577.73L164.65 580.29L165.56 584.11L162.21 582.06L158.86 584.11L159.77 580.29L156.79 577.73L160.70 577.42Z" fill="#000"/>
<path d="M193.95 563.08L195.46 566.71L199.37 567.02L196.39 569.57L197.30 573.39L193.95 571.35L190.60 573.39L191.51 569.57L188.53 567.02L192.44 566.71Z" fill="#000"/>
<path d="M225.68 560.22L227.19 563.85L231.11 564.16L228.12 566.72L229.03 570.54L225.68 568.49L222.33 570.54L223.24 566.72L220.26 564.16L224.18 563.85Z" fill="#000"/>
<path d="M257.42 555.94L258.93 559.56L262.84 559.88L259.86 562.43L260.77 566.25L257.42 564.20L254.07 566.25L254.98 562.43L252.00 559.88L255.91 559.56Z" fill="#000"/>
<path d="M289.16 553.08L290.67 556.71L294.58 557.02L291.60 559.58L292.51 563.39L289.16 561.35L285.81 563.39L286.72 559.58L283.74 557.02L287.65 556.71Z" fill="#000"/>
<path d="M320.89 550.23L322.40 553.85L326.32 554.16L323.33 556.72L324.25 560.54L320.89 558.49L317.54 560.54L318.46 556.72L315.47 554.16L319.39 553.85Z" fill="#000"/>
<path d="M352.63 548.08L354.14 551.71L358.05 552.02L355.07 554.58L355.98 558.39L352.63 556.35L349.28 558.39L350.19 554.58L347.21 552.02L351.12 551.71Z" fill="#000"/>
<path d="M384.37 545.94L385.88 549.57L389.79 549.88L386.81 552.43L387.72 556.25L384.37 554.21L381.02 556.25L381.93 552.43L378.95 549.88L382.86 549.57Z" fill="#000"/>
<path d="M416.11 543.80L417.61 547.42L421.53 547.74L418.54 550.29L419.46 554.11L416.11 552.06L412.75 554.11L413.67 550.29L410.68 547.74L414.60 547.42Z" fill="#000"/>
<path d="M447.84 542.37L449.35 545.99L453.26 546.31L450.28 548.86L451.19 552.68L447.84 550.63L444.49 552.68L445.40 548.86L442.42 546.31L446.33 545.99Z" fill="#000"/>
<path d="M479.58 540.94L481.09 544.57L485.00 544.88L482.02 547.43L482.93 551.25L479.58 549.21L476.23 551.25L477.14 547.43L474.16 544.88L478.07 544.57Z" fill="#000"/>
<path d="M511.32 539.51L512.82 543.14L516.74 543.45L513.76 546.01L514.67 549.82L511.32 547.78L507.97 549.82L508.88 546.01L505.89 543.45L509.81 543.14Z" fill="#000"/>
<path d="M543.05 538.08L544.56 541.71L548.47 542.02L545.49 544.58L546.40 548.40L543.05 546.35L539.70 548.40L540.61 544.58L537.63 542.02L541.54 541.71Z" fill="#000"/>
<path d="M574.79 536.66L576.30 540.28L580.21 540.59L577.23 543.15L578.14 546.97L574.79 544.92L571.44 546.97L572.35 543.15L569.37 540.59L573.28 540.28Z" fill="#000"/>
<path d="M606.53 535.23L608.03 538.85L611.95 539.17L608.97 541.72L609.88 545.54L606.53 543.49L603.18 545.54L604.09 541.72L601.11 539.17L605.02 538.85Z" fill="#000"/>
<path d="M638.26 533.09L639.77 536.71L643.68 537.02L640.70 539.58L641.61 543.40L638.26 541.35L634.91 543.40L635.82 539.58L632.84 537.02L636.76 536.71Z" fill="#000"/>
<path d="M670.00 528.80L671.51 532.42L675.42 532.74L672.44 535.29L673.35 539.11L670.00 537.07L666.65 539.11L667.56 535.29L664.58 532.74L668.49 532.42Z" fill="#000"/>
<polyline points="67.00,733.98 98.74,694.62 130.47,687.34 162.21,683.48 193.95,679.13 225.68,676.20 257.42,671.98 289.16,666.13 320.89,659.70 352.63,652.34 384.37,643.63 416.11,633.99 447.84,623.06 479.58,611.99 511.32,598.21 543.05,583.78 574.79,568.78 606.53,554.71 638.26,543.78 670.00,534.50" fill="none" stroke="#000" stroke-width="1.1" stroke-linejoin="round"/>
<circle cx="67.00" cy="733.98" r="4.9" fill="url(#sg)"/>
<circle cx="98.74" cy="694.62" r="4.9" fill="url(#sg)"/>
<circle cx="130.47" cy="687.34" r="4.9" fill="url(#sg)"/>
<circle cx="162.21" cy="683.48" r="4.9" fill="url(#sg)"/>
<circle cx="193.95" cy="679.13" r="4.9" fill="url(#sg)"/>
<circle cx="225.68" cy="676.20" r="4.9" fill="url(#sg)"/>
<circle cx="257.42" cy="671.98" r="4.9" fill="url(#sg)"/>
<circle cx="289.16" cy="666.13" r="4.9" fill="url(#sg)"/>
<circle cx="320.89" cy="659.70" r="4.9" fill="url(#sg)"/>
<circle cx="352.63" cy="652.34" r="4.9" fill="url(#sg)"/>
<circle cx="384.37" cy="643.63" r="4.9" fill="url(#sg)"/>
<circle cx="416.11" cy="633.99" r="4.9" fill="url(#sg)"/>
<circle cx="447.84" cy="623.06" r="4.9" fill="url(#sg)"/>
<circle cx="479.58" cy="611.99" r="4.9" fill="url(#sg)"/>
<circle cx="511.32" cy="598.21" r="4.9" fill="url(#sg)"/>
<circle cx="543.05" cy="583.78" r="4.9" fill="url(#sg)"/>
<circle cx="574.79" cy="568.78" r="4.9" fill="url(#sg)"/>
<circle cx="606.53" cy="554.71" r="4.9" fill="url(#sg)"/>
<circle cx="638.26" cy="543.78" r="4.9" fill="url(#sg)"/>
<circle cx="670.00" cy="534.50" r="4.9" fill="url(#sg)"/>
<line x1="66.95" y1="533.70" x2="66.95" y2="928.45" stroke="#000" stroke-width="1.85"/>
<line x1="66.0" y1="927.50" x2="670.90" y2="927.50" stroke="#000" stroke-width="1.9"/>
<line x1="67" y1="534.50" x2="75" y2="534.50" stroke="#000" stroke-width="1.6"/>
<text x="58.3" y="541.30" text-anchor="end" class="tk">1.0</text>
<line x1="67" y1="605.92" x2="75" y2="605.92" stroke="#000" stroke-width="1.6"/>
<text x="58.3" y="612.72" text-anchor="end" class="tk">0.9</text>
<line x1="67" y1="677.34" x2="75" y2="677.34" stroke="#000" stroke-width="1.6"/>
<text x="58.3" y="684.14" text-anchor="end" class="tk">0.8</text>
<line x1="67" y1="748.76" x2="75" y2="748.76" stroke="#000" stroke-width="1.6"/>
<text x="58.3" y="755.56" text-anchor="end" class="tk">0.7</text>
<line x1="67" y1="820.18" x2="75" y2="820.18" stroke="#000" stroke-width="1.6"/>
<text x="58.3" y="826.98" text-anchor="end" class="tk">0.6</text>
<line x1="67" y1="891.60" x2="75" y2="891.60" stroke="#000" stroke-width="1.6"/>
<text x="58.3" y="898.40" text-anchor="end" class="tk">0.5</text>
<line x1="67" y1="570.21" x2="71.5" y2="570.21" stroke="#000" stroke-width="1.6"/>
<line x1="67" y1="641.63" x2="71.5" y2="641.63" stroke="#000" stroke-width="1.6"/>
<line x1="67" y1="713.05" x2="71.5" y2="713.05" stroke="#000" stroke-width="1.6"/>
<line x1="67" y1="784.47" x2="71.5" y2="784.47" stroke="#000" stroke-width="1.6"/>
<line x1="67" y1="855.89" x2="71.5" y2="855.89" stroke="#000" stroke-width="1.6"/>
<line x1="67.00" y1="927.50" x2="67.00" y2="919.50" stroke="#000" stroke-width="1.6"/>
<text x="67.00" y="953.50" text-anchor="middle" class="tk">0.0</text>
<line x1="187.60" y1="927.50" x2="187.60" y2="919.50" stroke="#000" stroke-width="1.6"/>
<text x="187.60" y="953.50" text-anchor="middle" class="tk">0.2</text>
<line x1="308.20" y1="927.50" x2="308.20" y2="919.50" stroke="#000" stroke-width="1.6"/>
<text x="308.20" y="953.50" text-anchor="middle" class="tk">0.4</text>
<line x1="428.80" y1="927.50" x2="428.80" y2="919.50" stroke="#000" stroke-width="1.6"/>
<text x="428.80" y="953.50" text-anchor="middle" class="tk">0.6</text>
<line x1="549.40" y1="927.50" x2="549.40" y2="919.50" stroke="#000" stroke-width="1.6"/>
<text x="549.40" y="953.50" text-anchor="middle" class="tk">0.8</text>
<line x1="670.00" y1="927.50" x2="670.00" y2="919.50" stroke="#000" stroke-width="1.6"/>
<text x="670.00" y="953.50" text-anchor="middle" class="tk">1.0</text>
<line x1="127.30" y1="927.50" x2="127.30" y2="923.00" stroke="#000" stroke-width="1.6"/>
<line x1="247.90" y1="927.50" x2="247.90" y2="923.00" stroke="#000" stroke-width="1.6"/>
<line x1="368.50" y1="927.50" x2="368.50" y2="923.00" stroke="#000" stroke-width="1.6"/>
<line x1="489.10" y1="927.50" x2="489.10" y2="923.00" stroke="#000" stroke-width="1.6"/>
<line x1="609.70" y1="927.50" x2="609.70" y2="923.00" stroke="#000" stroke-width="1.6"/>
<line x1="158" y1="839.3" x2="205.2" y2="839.3" stroke="#000" stroke-width="1.2"/>
<rect x="177.10" y="834.80" width="9.0" height="9.0" fill="#000"/>
<text x="209.6" y="846.60" class="lg">5Hz,1.0MPa</text>
<line x1="320.3" y1="839.3" x2="367.4" y2="839.3" stroke="#000" stroke-width="1.2"/>
<path d="M343.85 833.00L350.05 839.30L343.85 845.60L337.65 839.30Z" fill="#000"/>
<text x="373.0" y="846.60" class="lg">10Hz,1.0MPa</text>
<line x1="493.4" y1="839.3" x2="540.3" y2="839.3" stroke="#000" stroke-width="1.2"/>
<circle cx="516.85" cy="839.30" r="5.1" fill="#000"/>
<text x="545.3" y="846.60" class="lg">20Hz,1.0MPa</text>
<line x1="158" y1="864.9" x2="205.2" y2="864.9" stroke="#000" stroke-width="1.2"/>
<path d="M181.60 858.10L187.70 868.30L175.50 868.30Z" fill="#000"/>
<text x="209.6" y="872.20" class="lg">5Hz,2.5MPa</text>
<line x1="320.3" y1="864.9" x2="367.4" y2="864.9" stroke="#000" stroke-width="1.2"/>
<path d="M338.35 859.40L349.35 870.40M349.35 859.40L338.35 870.40" stroke="#000" stroke-width="1.1" fill="none"/>
<text x="373.0" y="872.20" class="lg">10Hz,2.5MPa</text>
<line x1="493.4" y1="864.9" x2="540.3" y2="864.9" stroke="#000" stroke-width="1.2"/>
<path d="M516.85 871.90L522.95 861.40L510.75 861.40Z" fill="#000"/>
<text x="545.3" y="872.20" class="lg">20Hz,2.5MPa</text>
<line x1="158" y1="890.5" x2="205.2" y2="890.5" stroke="#000" stroke-width="1.2"/>
<path d="M181.60 884.80L183.11 888.42L187.02 888.74L184.04 891.29L184.95 895.11L181.60 893.07L178.25 895.11L179.16 891.29L176.18 888.74L180.09 888.42Z" fill="#000"/>
<text x="209.6" y="897.80" class="lg">5Hz,5.0MPa</text>
<line x1="320.3" y1="890.5" x2="367.4" y2="890.5" stroke="#000" stroke-width="1.2"/>
<circle cx="343.85" cy="890.50" r="4.9" fill="url(#sg)"/>
<text x="373.0" y="897.80" class="lg">10Hz,5.0MPa</text>
<text transform="translate(20.5,731) rotate(-90)" text-anchor="middle" class="yl"><tspan font-style="italic">D</tspan><tspan font-style="italic" class="sub" dy="5">modified</tspan></text>
<text x="364.2" y="986.6" text-anchor="middle" class="xl">n/N</text>
<text x="343.5" y="1028" text-anchor="middle" class="cap">(b) Maximum radial strain method</text>
</svg>
</body></html>
